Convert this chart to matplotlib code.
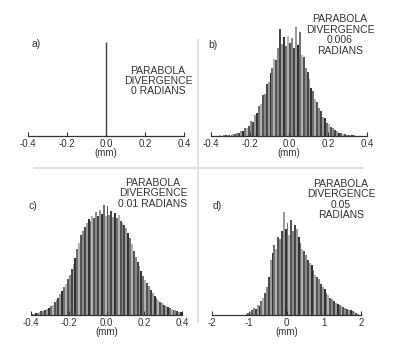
import numpy as np
import matplotlib
matplotlib.use('Agg')
import matplotlib.pyplot as plt
from matplotlib.lines import Line2D

plt.rcParams['font.family'] = ['Liberation Sans', 'DejaVu Sans']

# panel a: all rays land in one spot
a_centers = [0.0]
a_counts = [0.98]

# panel b: divergence 0.006 rad, bins of 0.01 mm from -0.4 to 0.4
b_range = (-0.4, 0.4)
b_counts = [0.003, 0.003, 0.004, 0.004, 0.005, 0.004, 0.006, 0.006, 0.008, 0.007,
            0.012, 0.015, 0.018, 0.03, 0.028, 0.045, 0.042, 0.07, 0.075, 0.095,
            0.14, 0.13, 0.19, 0.21, 0.27, 0.29, 0.37, 0.38, 0.47, 0.49,
            0.57, 0.62, 0.70, 0.69, 0.80, 0.97, 0.84, 0.90, 0.82, 0.91,
            0.85, 0.89, 0.80, 0.99, 0.83, 0.95, 0.74, 0.72, 0.62, 0.58,
            0.52, 0.44, 0.41, 0.34, 0.31, 0.25, 0.23, 0.17, 0.16, 0.12,
            0.11, 0.08, 0.07, 0.05, 0.045, 0.03, 0.028, 0.02, 0.015, 0.012,
            0.008, 0.007, 0.005, 0.005, 0.004, 0.003, 0.003, 0.002, 0.002, 0.002]

# panel c: divergence 0.01 rad
c_range = (-0.4, 0.4)
c_counts = [1, 1.5, 2, 2.5, 3, 4, 4.5, 5, 6, 7,
            9, 10, 13, 15, 17, 21, 24, 28, 31, 36,
            40, 46, 51, 57, 66, 72, 80, 84, 88, 92,
            96, 94, 99, 97, 103, 99, 105, 101, 110, 99,
            109, 100, 104, 98, 102, 97, 100, 94, 92, 90,
            87, 82, 77, 71, 64, 58, 53, 49, 44, 39,
            35, 32, 29, 25, 22, 19, 17, 15, 13, 12,
            10, 9, 8, 7, 6, 5, 5, 4, 3, 3]

# panel d: divergence 0.05 rad, bins of 0.05 mm from -1.2 to 2.0
d_range = (-1.2, 2.0)
d_counts = [0, 0.5, 1, 2, 3, 5, 7, 6, 10, 9,
            14, 17, 22, 28, 38, 55, 62, 70, 66, 78,
            76, 84, 103, 86, 92, 80, 95, 84, 90, 86,
            78, 72, 66, 64, 60, 55, 52, 50, 45, 40,
            38, 36, 31, 28, 26, 22, 20, 17, 16, 14,
            12, 11, 10, 9, 8, 7, 6, 5, 5, 4,
            3, 2, 1, 0.5]

panels = [
    ('a)', 'PARABOLA\nDIVERGENCE\n0 RADIANS', [-0.4, -0.2, 0.0, 0.2, 0.4], ['-0.4', '-0.2', '0.0', '0.2', '0.4']),
    ('b)', 'PARABOLA\nDIVERGENCE\n0.006\nRADIANS', [-0.4, -0.2, 0.0, 0.2, 0.4], ['-0.4', '-0.2', '0.0', '0.2', '0.4']),
    ('c)', 'PARABOLA\nDIVERGENCE\n0.01 RADIANS', [-0.4, -0.2, 0.0, 0.2, 0.4], ['-0.4', '-0.2', '0.0', '0.2', '0.4']),
    ('d)', 'PARABOLA\nDIVERGENCE\n0.05\nRADIANS', [-2, -1, 0, 1, 2], ['-2', '-1', '0', '1', '2']),
]

W, H = 400, 362
fig = plt.figure(figsize=(4.0, 3.62), dpi=100)


def px_axes(x0, x1, ytop, ybot):
    return fig.add_axes([x0 / W, 1 - ybot / H, (x1 - x0) / W, (ybot - ytop) / H])


shades = ['#464646', '#9a9a9a', '#333333', '#707070', '#b2b2b2', '#555555', '#888888']


def hist_bars(ax, lo, hi, counts):
    edges = np.linspace(lo, hi, len(counts) + 1)
    centers = (edges[:-1] + edges[1:]) / 2
    width = edges[1] - edges[0]
    cols = [shades[i % len(shades)] for i in range(len(counts))]
    ax.bar(centers, counts, width=width, color=cols, linewidth=0)


ax_a = px_axes(28, 184, 40, 136)
ax_a.vlines(a_centers, 0, a_counts, color='#444444', linewidth=1.0)
ax_a.set_xlim(-0.4, 0.4)
ax_a.set_ylim(0, 1.0)

ax_b = px_axes(211, 367, 26, 136)
hist_bars(ax_b, b_range[0], b_range[1], b_counts)
ax_b.set_xlim(-0.4, 0.4)
ax_b.set_ylim(0, 1.0)

ax_c = px_axes(31, 182, 202, 315)
hist_bars(ax_c, c_range[0], c_range[1], c_counts)
ax_c.set_xlim(-0.4, 0.4)
ax_c.set_ylim(0, 113)

ax_d = px_axes(212, 361, 202, 315)
hist_bars(ax_d, d_range[0], d_range[1], d_counts)
ax_d.set_xlim(-2, 2)
ax_d.set_ylim(0, 113)

for ax, (tag, note, ticks, labels) in zip([ax_a, ax_b, ax_c, ax_d], panels):
    for s in ['left', 'right', 'top']:
        ax.spines[s].set_visible(False)
    ax.spines['bottom'].set_color('#333333')
    ax.spines['bottom'].set_linewidth(0.9)
    ax.set_yticks([])
    ax.set_xticks(ticks)
    ax.set_xticklabels(labels)
    ax.tick_params(axis='x', direction='in', length=3, width=0.8, pad=2.5,
                   labelsize=7, colors='#333333')
    ax.set_xlabel('(mm)', fontsize=7, color='#333333', labelpad=-1)
    ax.patch.set_alpha(0)

# panel tags and notes, placed in pixel positions
tags = [(31, 44), (208, 45), (29, 206), (213, 206)]
notes = [(158, 81), (340, 35), (153, 193.5), (341, 199.5)]
for (tag, note, _, _), (tx, ty), (nx, ny) in zip(panels, tags, notes):
    fig.text(tx / W, 1 - ty / H, tag, fontsize=7.5, color='#333333', ha='left', va='center')
    fig.text(nx / W, 1 - ny / H, note, fontsize=7.5, color='#333333', ha='center',
             va='center', linespacing=1.05)

# light separators between panels
fig.add_artist(Line2D([34 / W, 363 / W], [1 - 168 / H, 1 - 168 / H], transform=fig.transFigure,
                      color='#e2e2e2', linewidth=1.5))
fig.add_artist(Line2D([198 / W, 198 / W], [1 - 40 / H, 1 - 322 / H], transform=fig.transFigure,
                      color='#e2e2e2', linewidth=1.5))

fig.savefig('out.png', dpi=100)
